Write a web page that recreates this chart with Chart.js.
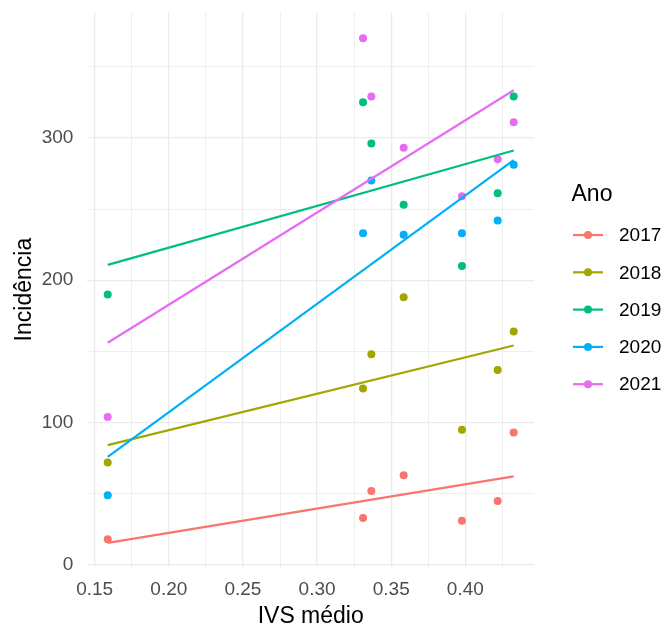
<!DOCTYPE html>
<html>
<head>
<meta charset="utf-8">
<script src="https://cdn.jsdelivr.net/npm/chart.js@4/dist/chart.umd.min.js"></script>
<style>
  html, body { margin: 0; padding: 0; background: #fff; }
  #wrap { width: 664px; height: 629px; }
</style>
</head>
<body>
<div id="wrap"><canvas id="grafico" width="664" height="629"></canvas></div>
<script>
// IVS médio por ponto (eixo x)
const ivs = [0.1588, 0.331, 0.3366, 0.3584, 0.3977, 0.4218, 0.4326];
// Incidência por ano
const inc2017 = [18, 33, 52, 63, 31, 45, 93];
const inc2018 = [72, 124, 148, 188, 95, 137, 164];
const inc2019 = [190, 325, 296, 253, 210, 261, 329];
const inc2020 = [49, 233, 270, 232, 233, 242, 281];
const inc2021 = [104, 370, 329, 293, 259, 285, 311];

const anos = ['2017', '2018', '2019', '2020', '2021'];
const series = [inc2017, inc2018, inc2019, inc2020, inc2021];
const cores = ['#F8766D', '#A3A500', '#00BF7D', '#00B0F6', '#E76BF3'];

const FONTE = '"Liberation Sans", Arial, sans-serif';

// reta de mínimos quadrados (geom_smooth method = lm)
function ajuste(xs, ys) {
    const n = xs.length;
    const mx = xs.reduce((a, b) => a + b, 0) / n;
    const my = ys.reduce((a, b) => a + b, 0) / n;
    let sxy = 0, sxx = 0;
    for (let i = 0; i < n; i++) {
        sxy += (xs[i] - mx) * (ys[i] - my);
        sxx += (xs[i] - mx) * (xs[i] - mx);
    }
    const b = sxy / sxx;
    const a = my - b * mx;
    const x0 = Math.min(...xs), x1 = Math.max(...xs);
    return [{x: x0, y: a + b * x0}, {x: x1, y: a + b * x1}];
}

const linhas = [];
const pontos = [];
for (let i = anos.length - 1; i >= 0; i--) {
    linhas.push({
        type: 'line',
        label: anos[i],
        data: ajuste(ivs, series[i]),
        borderColor: cores[i],
        borderWidth: 2.2,
        pointRadius: 0,
        tension: 0,
        order: 0
    });
    pontos.push({
        type: 'scatter',
        label: anos[i],
        data: ivs.map((x, k) => ({x: x, y: series[i][k]})),
        backgroundColor: cores[i],
        borderWidth: 0,
        pointRadius: 4,
        order: 1
    });
}

// legenda no estilo ggplot
const legendaAno = {
    id: 'legendaAno',
    afterDraw(chart) {
        const ctx = chart.ctx;
        ctx.save();
        ctx.textBaseline = 'middle';
        ctx.textAlign = 'left';
        ctx.fillStyle = '#000';
        ctx.font = '23px ' + FONTE;
        ctx.fillText('Ano', 571.5, 195);
        ctx.font = '19px ' + FONTE;
        anos.forEach((ano, i) => {
            const y = 235 + i * 37.3;
            ctx.strokeStyle = cores[i];
            ctx.lineWidth = 2.2;
            ctx.beginPath();
            ctx.moveTo(573, y);
            ctx.lineTo(603, y);
            ctx.stroke();
            ctx.fillStyle = cores[i];
            ctx.beginPath();
            ctx.arc(588, y, 4, 0, Math.PI * 2);
            ctx.fill();
            ctx.fillStyle = '#000';
            ctx.fillText(ano, 619, y + 1);
        });
        ctx.restore();
    }
};

function semPadding(scale) {
    scale.paddingTop = 0;
    scale.paddingBottom = 0;
    scale.paddingLeft = 0;
    scale.paddingRight = 0;
}

const grade = (major) => (c) => major(c.tick.value) ? 1.3 : 0.8;

new Chart(document.getElementById('grafico').getContext('2d'), {
    data: { datasets: linhas.concat(pontos) },
    options: {
        responsive: false,
        animation: false,
        layout: { padding: { left: 0, top: 12.5, right: 130, bottom: 0 } },
        plugins: {
            legend: { display: false },
            tooltip: { enabled: false }
        },
        scales: {
            x: {
                type: 'linear',
                min: 0.1451,
                max: 0.4463,
                border: { display: false },
                grid: {
                    color: '#EBEBEB',
                    drawTicks: false,
                    lineWidth: grade(v => Math.round(v * 1000) % 50 === 0)
                },
                ticks: {
                    stepSize: 0.025,
                    includeBounds: false,
                    autoSkip: false,
                    maxRotation: 0,
                    padding: 12,
                    color: '#4D4D4D',
                    font: { family: FONTE, size: 19 },
                    callback: v => Math.round(v * 1000) % 50 === 0 ? v.toFixed(2) : ''
                },
                title: {
                    display: true,
                    text: 'IVS médio',
                    color: '#000',
                    font: { family: FONTE, size: 23, lineHeight: 1 },
                    padding: { top: 0, bottom: 1 }
                },
                afterFit(scale) { scale.height = 62.3; semPadding(scale); }
            },
            y: {
                type: 'linear',
                min: -1.2,
                max: 388,
                border: { display: false },
                grid: {
                    color: '#EBEBEB',
                    drawTicks: false,
                    lineWidth: grade(v => Math.round(v) % 100 === 0)
                },
                ticks: {
                    stepSize: 50,
                    includeBounds: false,
                    autoSkip: false,
                    padding: 14,
                    color: '#4D4D4D',
                    font: { family: FONTE, size: 19 },
                    callback: v => Math.round(v) % 100 === 0 ? String(v) : ''
                },
                title: {
                    display: true,
                    text: 'Incidência',
                    color: '#000',
                    font: { family: FONTE, size: 23, lineHeight: 1 },
                    padding: { top: 13.5, bottom: 0 }
                },
                afterFit(scale) { scale.width = 87.4; semPadding(scale); }
            }
        }
    },
    plugins: [legendaAno]
});
</script>
</body>
</html>
